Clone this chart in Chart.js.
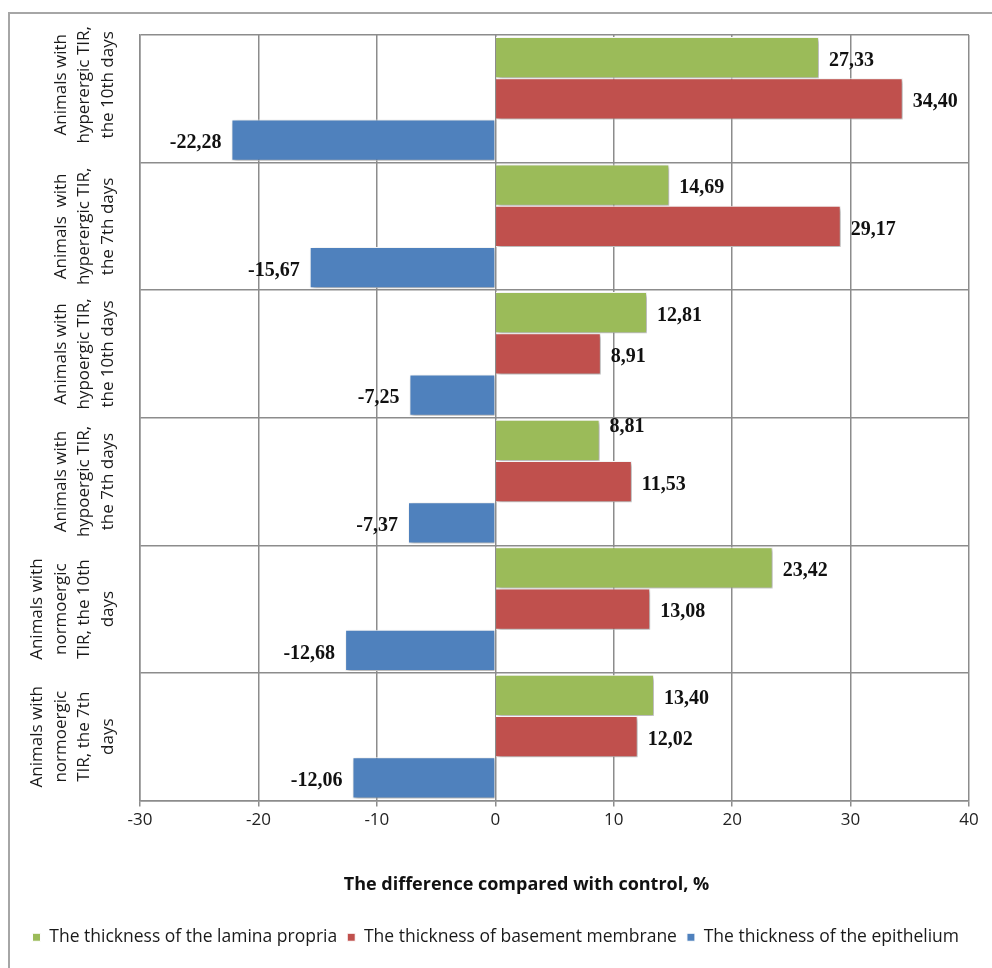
<!DOCTYPE html>
<html>
<head>
<meta charset="utf-8">
<title>Thickness difference compared with control</title>
<script src="https://cdn.jsdelivr.net/npm/chart.js@4.4.1/dist/chart.umd.min.js"></script>
<style>
  html, body { margin: 0; padding: 0; background: #fff; }
  #tir-chart { display: block; }
</style>
</head>
<body>
<canvas id="tir-chart" width="992" height="968"></canvas>
<script>
// groups, top to bottom
var groups = [
  ['Animals with', 'hyperergic TIR,', 'the 10th days'],
  ['Animals  with', 'hyperergic TIR,', 'the 7th days'],
  ['Animals with', 'hypoergic TIR,', 'the 10th days'],
  ['Animals with', 'hypoergic TIR,', 'the 7th days'],
  ['Animals with', 'normoergic', 'TIR, the 10th', 'days'],
  ['Animals with', 'normoergic', 'TIR, the 7th', 'days']
];
var laminaPropria    = [27.33, 14.69, 12.81, 8.81, 23.42, 13.40];
var basementMembrane = [34.40, 29.17, 8.91, 11.53, 13.08, 12.02];
var epithelium       = [-22.28, -15.67, -7.25, -7.37, -12.68, -12.06];
var xTicks = [-30, -20, -10, 0, 10, 20, 30, 40];

var seriesNames = [
  'The thickness of the lamina propria',
  'The thickness of basement membrane',
  'The thickness of the epithelium'
];
var axisTitle = 'The difference compared with control, %';

var gridColor = '#8c8c8c';
var sans = '"Open Sans", sans-serif';

function fmt(v) {
  return v.toFixed(2).replace('.', ',');
}

// grey frame round the whole figure
var outerFrame = {
  id: 'outerFrame',
  beforeDraw: function (chart) {
    var ctx = chart.ctx;
    ctx.save();
    ctx.strokeStyle = '#a6a6a6';
    ctx.lineWidth = 2;
    ctx.strokeRect(9, 13, 1000, 1000);
    ctx.restore();
  }
};

// soft drop shadow behind the bars
var barShadow = {
  id: 'barShadow',
  beforeDatasetsDraw: function (chart) {
    var ctx = chart.ctx;
    ctx.save();
    ctx.shadowColor = 'rgba(0,0,0,0.35)';
    ctx.shadowBlur = 4;
    ctx.shadowOffsetX = 2;
    ctx.shadowOffsetY = 2;
  },
  afterDatasetsDraw: function (chart) {
    chart.ctx.restore();
  }
};

// value labels next to the bar ends
var valueLabels = {
  id: 'valueLabels',
  afterDatasetsDraw: function (chart) {
    var ctx = chart.ctx;
    ctx.save();
    ctx.font = 'bold 20px "Liberation Serif", "Times New Roman", serif';
    ctx.fillStyle = '#111';
    ctx.textBaseline = 'middle';
    chart.data.datasets.forEach(function (ds, di) {
      var meta = chart.getDatasetMeta(di);
      meta.data.forEach(function (bar, i) {
        var v = ds.data[i];
        var y = bar.y + 3;
        if (di === 0 && i === 3) y -= 16;
        if (v >= 0) {
          ctx.textAlign = 'left';
          ctx.fillText(fmt(v), bar.x + 10, y);
        } else {
          ctx.textAlign = 'right';
          ctx.fillText(fmt(v), bar.x - 10, y);
        }
      });
    });
    ctx.restore();
  }
};

// rotated group names on the left, axis title under the ticks
var axisText = {
  id: 'axisText',
  afterDraw: function (chart) {
    var ctx = chart.ctx;
    var scale = chart.scales.y;
    var xScale = chart.scales.x;
    var lineGap = 23.5;
    var lastX = scale.right - 32;
    ctx.save();
    ctx.font = '17px ' + sans;
    ctx.fillStyle = '#1a1a1a';
    ctx.textAlign = 'center';
    ctx.textBaseline = 'middle';
    chart.data.labels.forEach(function (lines, i) {
      var cy = scale.getPixelForValue(i);
      if (i === 0) cy -= 14;
      lines.forEach(function (line, k) {
        var x = lastX - (lines.length - 1 - k) * lineGap;
        ctx.save();
        ctx.translate(x, cy);
        ctx.rotate(-Math.PI / 2);
        ctx.fillText(line, 0, 0);
        ctx.restore();
      });
    });

    ctx.font = 'bold 18px ' + sans;
    ctx.fillStyle = '#111';
    ctx.fillText(axisTitle, (xScale.left + xScale.right) / 2 - 28, xScale.bottom - 34);
    ctx.restore();
  }
};

var ctx = document.getElementById('tir-chart').getContext('2d');
var chart = new Chart(ctx, {
  type: 'bar',
  data: {
    labels: groups,
    datasets: [{
      label: seriesNames[0],
      data: laminaPropria,
      backgroundColor: '#9bbb59'
    }, {
      label: seriesNames[1],
      data: basementMembrane,
      backgroundColor: '#c0504d'
    }, {
      label: seriesNames[2],
      data: epithelium,
      backgroundColor: '#4f81bd'
    }]
  },
  options: {
    indexAxis: 'y',
    responsive: false,
    animation: false,
    datasets: {
      bar: {
        categoryPercentage: 0.97,
        barPercentage: 1,
        borderColor: '#ffffff',
        borderWidth: 1
      }
    },
    layout: {
      padding: { top: 35, right: 23, bottom: 12, left: 0 }
    },
    scales: {
      x: {
        min: -30,
        max: 40,
        afterBuildTicks: function (scale) {
          scale.ticks = xTicks.map(function (v) { return { value: v }; });
        },
        afterFit: function (scale) {
          scale.height = 118;
        },
        grid: {
          color: gridColor,
          lineWidth: 1.5,
          tickLength: 6,
          drawTicks: true
        },
        border: { color: gridColor, width: 1.5 },
        ticks: {
          color: '#222',
          padding: 3,
          font: { family: sans, size: 17 }
        }
      },
      y: {
        afterFit: function (scale) {
          scale.width = 140;
        },
        grid: {
          color: gridColor,
          lineWidth: 1.5,
          drawTicks: false,
          offset: true
        },
        border: { color: gridColor, width: 1.5 },
        ticks: { display: false }
      }
    },
    plugins: {
      legend: {
        position: 'bottom',
        align: 'end',
        labels: {
          boxWidth: 8,
          boxHeight: 8,
          padding: 10,
          color: '#1a1a1a',
          font: { family: sans, size: 17.5 }
        }
      },
      tooltip: { enabled: false }
    }
  },
  plugins: [outerFrame, barShadow, valueLabels, axisText]
});
</script>
</body>
</html>
